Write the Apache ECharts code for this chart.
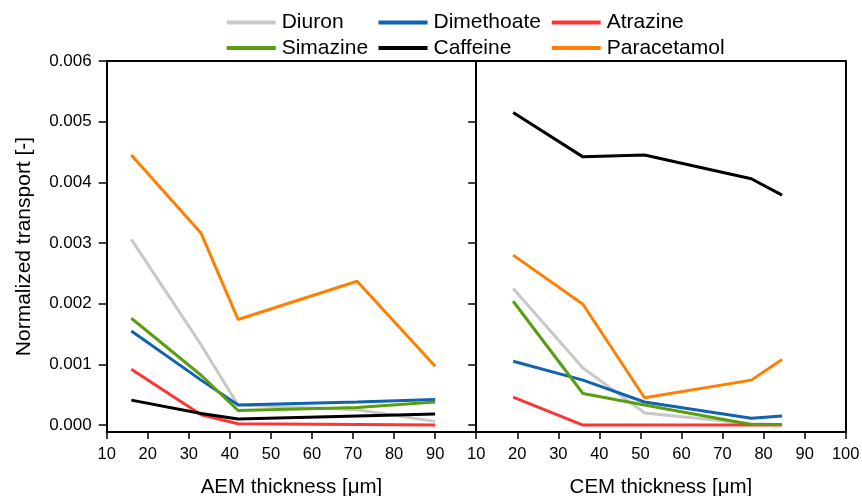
<!DOCTYPE html>
<html>
<head>
<meta charset="utf-8">
<script src="https://cdn.jsdelivr.net/npm/echarts@6/dist/echarts.min.js"></script>
<style>html,body{margin:0;padding:0;background:#fff}#c{width:862px;height:496px}</style>
</head>
<body>
<div id="c"></div>
<script>
// ---- Data ----
const seriesNames = ['Diuron', 'Dimethoate', 'Atrazine', 'Simazine', 'Caffeine', 'Paracetamol'];
const seriesColors = ['#c8c8c8', '#0f63b0', '#ff3535', '#5a9e10', '#000000', '#ff7f00'];

const aemX = [16, 33, 42, 71, 90];
const diuronAEM      = [0.00306, 0.00132, 0.00033, 0.00025, 0.00006];
const dimethoateAEM  = [0.00155, 0.00074, 0.00033, 0.00038, 0.00042];
const atrazineAEM    = [0.00092, 0.00017, 0.00002, 0.00001, 0.00000];
const simazineAEM    = [0.00176, 0.00082, 0.00024, 0.00029, 0.00038];
const caffeineAEM    = [0.00041, 0.00019, 0.00010, 0.00015, 0.00018];
const paracetamolAEM = [0.00445, 0.00316, 0.00174, 0.00237, 0.00097];

const cemX = [19, 36, 51, 77, 84.5];
const diuronCEM      = [0.00225, 0.00094, 0.00020, 0.00002, 0.00001];
const dimethoateCEM  = [0.00105, 0.00074, 0.00038, 0.00011, 0.00015];
const atrazineCEM    = [0.00046, 0.00000, 0.00000, 0.00000, 0.00000];
const simazineCEM    = [0.00204, 0.00052, 0.00033, 0.00001, 0.00001];
const caffeineCEM    = [0.00515, 0.00442, 0.00445, 0.00406, 0.00379];
const paracetamolCEM = [0.00280, 0.00199, 0.00045, 0.00074, 0.00108];

const yTicks = [0, 0.001, 0.002, 0.003, 0.004, 0.005, 0.006];
const xTicks = [10, 20, 30, 40, 50, 60, 70, 80, 90, 100];
const xLabelsAEM = [10, 20, 30, 40, 50, 60, 70, 80, 90];
const xLabelsCEM = [10, 20, 30, 40, 50, 60, 70, 80, 90, 100];
const xNameAEM = 'AEM thickness [μm]';
const xNameCEM = 'CEM thickness [μm]';
const yName = 'Normalized transport [-]';

// ---- Chart ----
const FONT = 'Liberation Sans, Arial, sans-serif';
const aemData = [diuronAEM, dimethoateAEM, atrazineAEM, simazineAEM, caffeineAEM, paracetamolAEM];
const cemData = [diuronCEM, dimethoateCEM, atrazineCEM, simazineCEM, caffeineCEM, paracetamolCEM];

const lineAxis = { show: true, onZero: false, lineStyle: { color: '#000', width: 2 } };
const YMIN = -0.000115, YMAX = 0.006;

const grids = [
  { left: 106.7, top: 61, width: 369.5, height: 371, containLabel: false, outerBoundsMode: 'none' },
  { left: 476.2, top: 61, width: 369.5, height: 371, containLabel: false, outerBoundsMode: 'none' }
];

const xAxes = [
  { gridIndex: 0, type: 'value', position: 'bottom', min: 10, max: 100,
    axisLine: lineAxis, splitLine: { show: false },
    axisTick: { show: true, customValues: xTicks, length: 7, inside: false, lineStyle: { color: '#000', width: 1.5 } },
    axisLabel: { customValues: xLabelsAEM, fontSize: 16.5, color: '#000', fontFamily: FONT, margin: 14 },
    name: xNameAEM, nameLocation: 'middle', nameGap: 45,
    nameTextStyle: { fontSize: 20.5, color: '#000', fontFamily: FONT } },
  { gridIndex: 0, type: 'value', position: 'top', min: 10, max: 100,
    axisLine: lineAxis, axisTick: { show: false }, axisLabel: { show: false }, splitLine: { show: false } },
  { gridIndex: 1, type: 'value', position: 'bottom', min: 10, max: 100,
    axisLine: lineAxis, splitLine: { show: false },
    axisTick: { show: true, customValues: xTicks, length: 7, inside: false, lineStyle: { color: '#000', width: 1.5 } },
    axisLabel: { customValues: xLabelsCEM, fontSize: 16.5, color: '#000', fontFamily: FONT, margin: 14 },
    name: xNameCEM, nameLocation: 'middle', nameGap: 45,
    nameTextStyle: { fontSize: 20.5, color: '#000', fontFamily: FONT } },
  { gridIndex: 1, type: 'value', position: 'top', min: 10, max: 100,
    axisLine: lineAxis, axisTick: { show: false }, axisLabel: { show: false }, splitLine: { show: false } }
];

const yAxes = [
  { gridIndex: 0, type: 'value', position: 'left', min: YMIN, max: YMAX,
    axisLine: lineAxis, splitLine: { show: false },
    axisTick: { show: true, customValues: yTicks, length: 8, inside: false, lineStyle: { color: '#000', width: 1.5 } },
    axisLabel: { customValues: yTicks, fontSize: 17, color: '#000', fontFamily: FONT, margin: 15,
      formatter: v => v.toFixed(3) },
    name: yName, nameLocation: 'middle', nameGap: 72,
    nameTextStyle: { fontSize: 21, color: '#000', fontFamily: FONT } },
  { gridIndex: 0, type: 'value', position: 'right', min: YMIN, max: YMAX,
    axisLine: lineAxis, splitLine: { show: false },
    axisTick: { show: true, customValues: yTicks, length: 8, inside: true, lineStyle: { color: '#000', width: 1.5 } },
    axisLabel: { show: false } },
  { gridIndex: 1, type: 'value', position: 'left', min: YMIN, max: YMAX,
    axisLine: lineAxis, axisTick: { show: false }, axisLabel: { show: false }, splitLine: { show: false } },
  { gridIndex: 1, type: 'value', position: 'right', min: YMIN, max: YMAX,
    axisLine: lineAxis, axisTick: { show: false }, axisLabel: { show: false }, splitLine: { show: false } }
];

const series = [];
seriesNames.forEach((n, i) => {
  series.push({
    name: n, type: 'line', xAxisIndex: 0, yAxisIndex: 0,
    data: aemX.map((x, k) => [x, aemData[i][k]]),
    showSymbol: false, symbol: 'none', color: seriesColors[i],
    lineStyle: { width: 3, color: seriesColors[i] }, z: 2 + i
  });
});
seriesNames.forEach((n, i) => {
  series.push({
    name: n, type: 'line', xAxisIndex: 2, yAxisIndex: 2,
    data: cemX.map((x, k) => [x, cemData[i][k]]),
    showSymbol: false, symbol: 'none', color: seriesColors[i],
    lineStyle: { width: 3, color: seriesColors[i] }, z: 2 + i
  });
});

const legendPos = [
  [226.7, 12], [378.5, 12], [551.7, 12],
  [226.7, 37.5], [378.5, 37.5], [551.7, 37.5]
];
const legends = seriesNames.map((n, i) => ({
  data: [n], left: legendPos[i][0], top: legendPos[i][1], padding: 0,
  icon: 'rect', itemWidth: 49, itemHeight: 4, itemGap: 0,
  selectedMode: false,
  textStyle: { fontSize: 21, color: '#000', fontFamily: FONT, padding: [0, 0, 0, 1] }
}));

const chart = echarts.init(document.getElementById('c'), null, { renderer: 'canvas' });
chart.setOption({
  animation: false,
  backgroundColor: '#fff',
  legend: legends,
  grid: grids,
  xAxis: xAxes,
  yAxis: yAxes,
  series: series
});
</script>
</body>
</html>
